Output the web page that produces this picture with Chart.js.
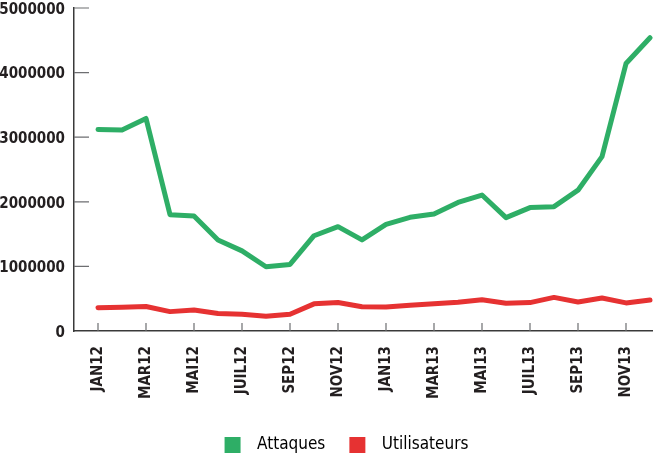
<!DOCTYPE html>
<html lang="fr">
<head>
<meta charset="utf-8">
<title>Attaques / Utilisateurs</title>
<script src="https://cdn.jsdelivr.net/npm/chart.js@4.4.1/dist/chart.umd.min.js"></script>
<style>
  html, body { margin: 0; padding: 0; background: #fff; }
  #wrap { width: 653px; height: 458px; }
</style>
</head>
<body>
<div id="wrap"><canvas id="gr"></canvas></div>
<script>
// mois de la série (un sur deux est affiché sous l'axe)
const mois = ['JAN12', 'FEV12', 'MAR12', 'AVR12', 'MAI12', 'JUIN12', 'JUIL12', 'AOUT12', 'SEP12', 'OCT12', 'NOV12', 'DEC12',
              'JAN13', 'FEV13', 'MAR13', 'AVR13', 'MAI13', 'JUIN13', 'JUIL13', 'AOUT13', 'SEP13', 'OCT13', 'NOV13', 'DEC13'];

const attaques = [3120000, 3110000, 3290000, 1800000, 1780000, 1410000, 1240000, 995000, 1030000, 1475000, 1615000, 1410000,
                  1650000, 1760000, 1810000, 1990000, 2105000, 1755000, 1910000, 1925000, 2180000, 2700000, 4140000, 4540000];

const utilisateurs = [360000, 367000, 380000, 300000, 325000, 270000, 260000, 230000, 260000, 420000, 440000, 375000,
                      370000, 400000, 420000, 445000, 485000, 430000, 440000, 520000, 450000, 510000, 435000, 480000];

const graduationsY = [0, 1000000, 2000000, 3000000, 4000000, 5000000];

const legende = ['Attaques', 'Utilisateurs'];
const couleurs = ['#2eae66', '#e63232'];

const police = "'DejaVu Sans Condensed', 'Liberation Sans', sans-serif";

// carré de légende, décalé dans une image pour régler les espacements
function carre(couleur) {
    const c = document.createElement('canvas');
    c.width = 44;
    c.height = 16;
    const g = c.getContext('2d');
    g.fillStyle = couleur;
    g.fillRect(20, 0, 16, 16);
    return c;
}

// petits traits de graduation tournés vers l'intérieur
const petitsTraits = {
    id: 'petitsTraits',
    afterLayout(chart) {
        // la légende est un peu décalée vers la droite
        chart.legend.left += 10;
        chart.legend.right += 10;
    },
    beforeDatasetsDraw(chart) {
        const { ctx, scales: { x, y } } = chart;
        ctx.save();
        ctx.strokeStyle = '#6d6e71';
        ctx.lineWidth = 1.2;
        ctx.beginPath();
        x.ticks.forEach(t => {
            const px = x.getPixelForValue(t.value);
            ctx.moveTo(px, y.bottom);
            ctx.lineTo(px, y.bottom - 8);
        });
        y.ticks.forEach(t => {
            if (t.value === 0) { return; }
            const py = y.getPixelForValue(t.value);
            ctx.moveTo(x.left, py);
            ctx.lineTo(x.left + 15, py);
        });
        ctx.stroke();
        ctx.restore();
    }
};

const series = [attaques, utilisateurs];

new Chart(document.getElementById('gr'), {
    type: 'line',
    data: {
        datasets: series.map((s, k) => ({
            label: legende[k],
            data: s.map((v, i) => ({ x: i, y: v })),
            borderColor: couleurs[k],
            backgroundColor: couleurs[k],
            borderWidth: 5,
            borderJoinStyle: 'round',
            borderCapStyle: 'round',
            pointRadius: 0,
            tension: 0
        }))
    },
    options: {
        responsive: true,
        maintainAspectRatio: false,
        animation: false,
        layout: { padding: { left: 0, right: 0, top: 0, bottom: -5 } },
        plugins: {
            tooltip: { enabled: false },
            legend: {
                position: 'bottom',
                labels: {
                    usePointStyle: true,
                    pointStyleWidth: 44,
                    padding: 4,
                    color: '#231f20',
                    font: { family: police, size: 17 },
                    generateLabels: () => legende.map((t, k) => ({
                        text: t,
                        pointStyle: carre(couleurs[k]),
                        fillStyle: couleurs[k],
                        strokeStyle: couleurs[k],
                        lineWidth: 0,
                        hidden: false,
                        datasetIndex: k
                    }))
                }
            }
        },
        scales: {
            x: {
                type: 'linear',
                min: -1,
                max: 23.125,
                afterBuildTicks: scale => { scale.ticks = mois.map((m, i) => ({ value: i })); },
                afterFit: scale => { scale.height = 101; },
                grid: { display: false, drawTicks: true, tickLength: 15 },
                border: { display: true, color: '#3a3a3a', width: 1.5 },
                ticks: {
                    autoSkip: false,
                    maxRotation: 90,
                    minRotation: 90,
                    padding: 0,
                    color: '#231f20',
                    font: { family: police, size: 15, weight: 'bold' },
                    callback: v => (v % 2 === 0 ? mois[v] : null)
                }
            },
            y: {
                min: 0,
                max: 5000000,
                afterBuildTicks: scale => { scale.ticks = graduationsY.map(v => ({ value: v })); },
                afterFit: scale => { scale.width = 74; },
                grid: { display: false, drawTicks: true, tickLength: 9 },
                border: { display: true, color: '#3a3a3a', width: 1.5 },
                ticks: {
                    padding: 0,
                    labelOffset: 2,
                    color: '#231f20',
                    font: { family: police, size: 15, weight: 'bold', lineHeight: '16px' },
                    callback: v => String(v)
                }
            }
        }
    },
    plugins: [petitsTraits]
});
</script>
</body>
</html>
